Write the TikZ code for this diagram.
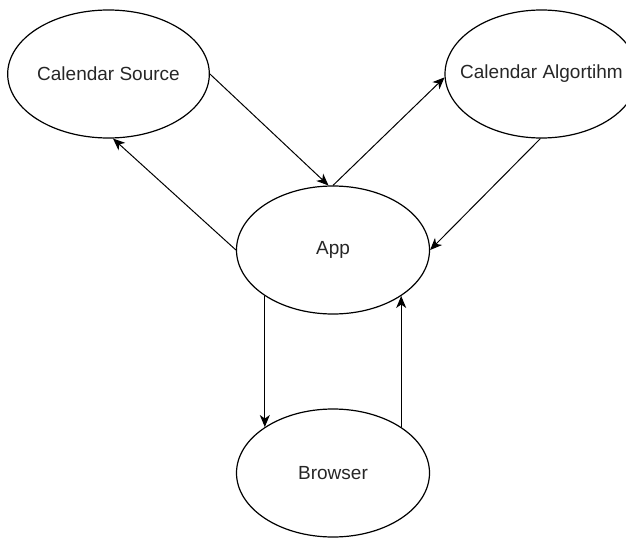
\documentclass[tikz,border=0pt]{standalone}
\usepackage{fontspec}
\setmainfont{Liberation Sans}
\usetikzlibrary{arrows.meta,shapes}

\begin{document}
\begin{tikzpicture}[x=1pt,y=-1pt,>={Stealth[length=12pt,width=10pt,inset=3.5pt]},
 blob/.style={draw,ellipse,line width=1.2pt,minimum width=193pt,minimum height=128pt,inner sep=0pt,text=black!85,font=\fontsize{19}{22}\selectfont},
 link/.style={->,line width=1pt}]
\useasboundingbox(0,0)rectangle(626,538);
\node[blob](src)at(108.5,74){Calendar Source};
\node[blob](alg)at(541.5,74){\makebox[0pt]{Calendar Algortihm}};
\node[blob](app)at(333,250){App};
\node[blob](brw)at(333,473){Browser};
%%
\draw[link](src.east)--(app.94);
\draw[link](app.west)--(src.-86);
\draw[link](app.north)--(alg.182);
\draw[link](alg.-91)--(app.east);
\draw[link](app.214)--(brw.146);
\draw[link](brw.34)--(app.-34);
\end{tikzpicture}
\end{document}
